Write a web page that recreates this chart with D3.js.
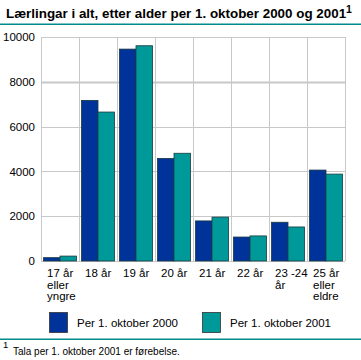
<!DOCTYPE html>
<html><head><meta charset="utf-8">
<script src="https://cdn.jsdelivr.net/npm/d3@7"></script>
<style>body{margin:0;background:#fff}svg{display:block}text{font-family:"Liberation Sans",Arial,sans-serif;fill:#000}</style>
</head><body>
<script>
const categories = ["17 år|eller|yngre","18 år","19 år","20 år","21 år","22 år","23 -24|år","25 år|eller|eldre"];
const series2000 = [150, 7170, 9460, 4580, 1790, 1070, 1730, 4060];
const series2001 = [220, 6650, 9610, 4810, 1960, 1120, 1520, 3880];
const seriesNames = ["Per 1. oktober 2000", "Per 1. oktober 2001"];
const yTicks = [0, 2000, 4000, 6000, 8000, 10000];
const colors = ["#003399", "#009999"];

const W = 361, H = 360;
const svg = d3.select("body").append("svg").attr("width", W).attr("height", H);
const m = {l: 41, r: 345, t: 37, b: 261};

svg.append("text").attr("x", 6).attr("y", 18).attr("font-weight", "bold").attr("font-size", 13.4)
  .text("Lærlingar i alt, etter alder per 1. oktober 2000 og 2001")
  .append("tspan").attr("dy", -5).attr("font-size", 10.5).text("1");
svg.append("rect").attr("x", 0).attr("y", 23.5).attr("width", 361).attr("height", 1.5).attr("fill", "#008b8b");

const x = d3.scaleBand().domain(categories).range([m.l, m.r]).paddingInner(0).paddingOuter(0);
const x1 = d3.scaleBand().domain([0, 1]).range([0, x.bandwidth()]).paddingOuter(0.15).paddingInner(0);
const y = d3.scaleLinear().domain([0, 10000]).range([m.b, m.t]);

// grid
const g = svg.append("g");
yTicks.forEach(t => {
  g.append("line").attr("x1", m.l).attr("x2", m.r).attr("y1", Math.round(y(t)) + 0.5).attr("y2", Math.round(y(t)) + 0.5)
    .attr("stroke", "#c8c8c8").attr("stroke-width", t === 8000 ? 2 : 1);
});
categories.forEach((c, i) => {
  g.append("line").attr("x1", x(c) + 0.5).attr("x2", x(c) + 0.5).attr("y1", m.t).attr("y2", m.b).attr("stroke", "#c8c8c8");
});
g.append("line").attr("x1", m.r + 0.5).attr("x2", m.r + 0.5).attr("y1", m.t).attr("y2", m.b).attr("stroke", "#c8c8c8");

// y axis labels
const ya = svg.append("g").attr("transform", `translate(${m.l},0)`)
  .call(d3.axisLeft(y).tickValues(yTicks).tickSize(0).tickPadding(6).tickFormat(d3.format("d")));
ya.select(".domain").remove();
ya.selectAll("text").attr("font-size", 11.5).attr("font-family", "Liberation Sans, Arial, sans-serif").attr("fill", "#000");

// bars
const data = [series2000, series2001];
data.forEach((s, si) => {
  svg.append("g").selectAll("rect").data(s).join("rect")
    .attr("x", (d, i) => x(categories[i]) + x1(si))
    .attr("width", x1.bandwidth())
    .attr("y", d => y(d))
    .attr("height", d => y(0) - y(d))
    .attr("fill", colors[si]).attr("stroke", "#1a3a40").attr("stroke-width", 0.8);
});

// x labels
categories.forEach(c => {
  const lines = c.split("|");
  const t = svg.append("text").attr("font-size", 11.5).attr("x", x(c) + 6).attr("y", 277);
  lines.forEach((l, k) => t.append("tspan").attr("x", x(c) + 6).attr("dy", k === 0 ? 0 : 11.5).text(l));
});

// legend
const lx = [49, 202];
seriesNames.forEach((n, i) => {
  svg.append("rect").attr("x", lx[i] + 0.5).attr("y", 312.5).attr("width", 18).attr("height", 20)
    .attr("fill", colors[i]).attr("stroke", "#333").attr("stroke-width", 0.8);
  svg.append("text").attr("x", lx[i] + 28).attr("y", 327).attr("font-size", 11.5).text(n);
});
svg.append("rect").attr("x", 0).attr("y", 338.5).attr("width", 361).attr("height", 1.5).attr("fill", "#008b8b");
svg.append("text").attr("x", 3).attr("y", 348).attr("font-size", 9.5).text("1");
svg.append("text").attr("x", 13).attr("y", 355).attr("font-size", 10).text("Tala per 1. oktober 2001 er førebelse.");
</script>
</body></html>
